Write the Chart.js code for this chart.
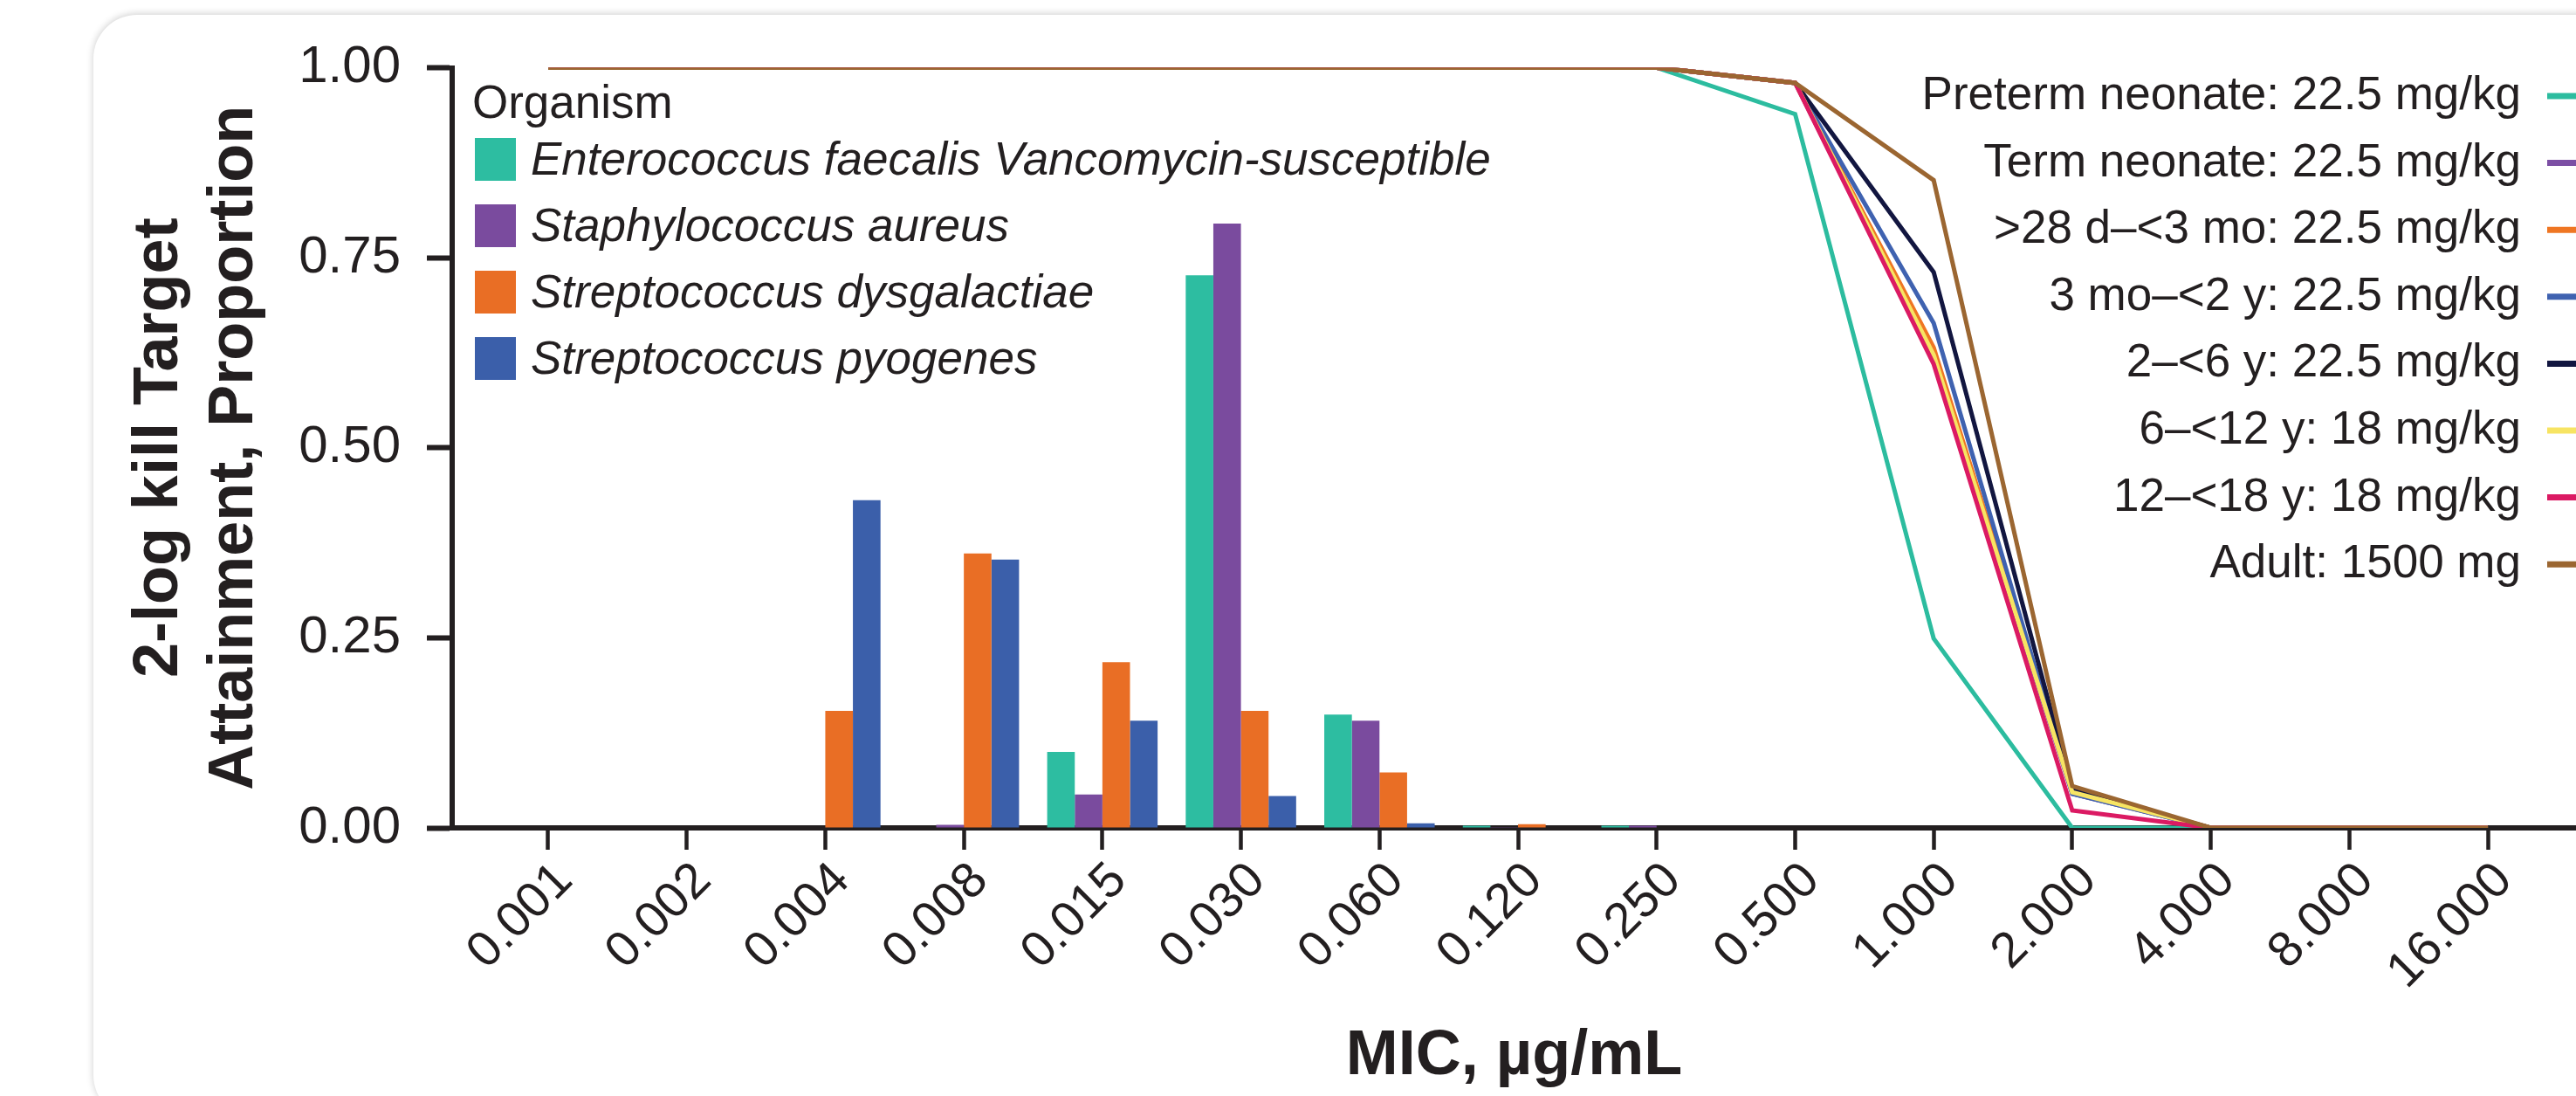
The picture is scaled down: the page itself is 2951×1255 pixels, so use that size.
<!DOCTYPE html>
<html>
<head>
<meta charset="utf-8">
<script src="https://cdn.jsdelivr.net/npm/chart.js@4.4.1/dist/chart.umd.min.js"></script>
<style>
  body { margin: 0; background: #fff; overflow: hidden; }
  .card {
    position: absolute; left: 107px; top: 17px; width: 3000px; height: 1264px;
    border-radius: 50px; background: #fff; box-shadow: 0 -1px 9px rgba(0,0,0,0.2);
  }
  #myChart { position: absolute; left: 0; top: 0; }
</style>
</head>
<body>
<div class="card"></div>
<canvas id="myChart" width="2951" height="1255"></canvas>
<script>
// MIC categories (x axis)
var micLabels = ['0.001', '0.002', '0.004', '0.008', '0.015', '0.030', '0.060', '0.120',
  '0.250', '0.500', '1.000', '2.000', '4.000', '8.000', '16.000'];

// organism MIC distributions (bars)
var organisms = ['Enterococcus faecalis Vancomycin-susceptible', 'Staphylococcus aureus',
  'Streptococcus dysgalactiae', 'Streptococcus pyogenes'];
var eFaecalis = [0, 0, 0, 0, 0.100, 0.727, 0.149, 0.003, 0.003, 0, 0, 0, 0, 0, 0];
var sAureus = [0, 0, 0, 0.004, 0.044, 0.795, 0.141, 0.001, 0.003, 0, 0, 0, 0, 0, 0];
var sDysgalactiae = [0, 0, 0.154, 0.361, 0.218, 0.154, 0.073, 0.005, 0, 0, 0, 0, 0, 0, 0];
var sPyogenes = [0, 0, 0.431, 0.353, 0.141, 0.042, 0.006, 0, 0, 0, 0, 0, 0, 0, 0];
var barColors = ['#2dbda1', '#7a4b9e', '#e96e25', '#3b5faa'];

// target attainment by age group (lines)
var ageGroups = ['Preterm neonate: 22.5 mg/kg', 'Term neonate: 22.5 mg/kg', '>28 d\u2013<3 mo: 22.5 mg/kg',
  '3 mo\u2013<2 y: 22.5 mg/kg', '2\u2013<6 y: 22.5 mg/kg', '6\u2013<12 y: 18 mg/kg',
  '12\u2013<18 y: 18 mg/kg', 'Adult: 1500 mg'];
var preterm = [1, 1, 1, 1, 1, 1, 1, 1, 1, 0.939, 0.249, 0, 0, 0, 0];
var termNeonate = [1, 1, 1, 1, 1, 1, 1, 1, 1, 0.980, 0.617, 0.045, 0, 0, 0];
var d28to3mo = [1, 1, 1, 1, 1, 1, 1, 1, 1, 0.980, 0.632, 0.048, 0, 0, 0];
var mo3to2y = [1, 1, 1, 1, 1, 1, 1, 1, 1, 0.980, 0.664, 0.045, 0, 0, 0];
var y2to6 = [1, 1, 1, 1, 1, 1, 1, 1, 1, 0.980, 0.731, 0.050, 0, 0, 0];
var y6to12 = [1, 1, 1, 1, 1, 1, 1, 1, 1, 0.980, 0.622, 0.047, 0, 0, 0];
var y12to18 = [1, 1, 1, 1, 1, 1, 1, 1, 1, 0.980, 0.610, 0.023, 0, 0, 0];
var adult = [1, 1, 1, 1, 1, 1, 1, 1, 1, 0.980, 0.852, 0.055, 0, 0, 0];
var lineColors = ['#2cbc9f', '#7c4fa4', '#ef7623', '#3f62b0', '#121640', '#f7e463', '#db1a63', '#9b6631'];

var yTicks = [0, 0.25, 0.5, 0.75, 1];

var ink = '#231f20';
var family = "'Liberation Sans', Arial, sans-serif";

function toPoints(values) {
  return values.map((v, i) => ({ x: i, y: v }));
}

var barSeries = [eFaecalis, sAureus, sDysgalactiae, sPyogenes];
var lineSeries = [preterm, termNeonate, d28to3mo, mo3to2y, y2to6, y6to12, y12to18, adult];

var datasets = [];
barSeries.forEach((values, i) => {
  datasets.push({
    type: 'bar',
    label: organisms[i],
    data: toPoints(values),
    backgroundColor: barColors[i],
    borderWidth: 0,
    categoryPercentage: 0.797,
    barPercentage: 1,
    order: 20
  });
});
lineSeries.forEach((values, i) => {
  datasets.push({
    type: 'line',
    label: ageGroups[i],
    data: toPoints(values),
    borderColor: lineColors[i],
    borderWidth: 5,
    borderJoinStyle: 'miter',
    pointRadius: 0,
    tension: 0,
    fill: false,
    order: 10 - i
  });
});

// both legends are drawn by hand from the datasets
var legendsPlugin = {
  id: 'twoLegends',
  afterDraw(chart) {
    var ctx = chart.ctx;
    var sets = chart.data.datasets;
    ctx.save();
    ctx.textBaseline = 'alphabetic';
    ctx.textAlign = 'left';
    ctx.fillStyle = ink;
    ctx.font = '53px ' + family;
    ctx.fillText('Organism', 541, 135);
    sets.filter(d => d.type === 'bar').forEach((d, i) => {
      var top = 158 + i * 76;
      ctx.fillStyle = d.backgroundColor;
      ctx.fillRect(544, top, 47, 49);
      ctx.fillStyle = ink;
      ctx.font = 'italic 53px ' + family;
      ctx.fillText(d.label, 608, top + 42);
    });

    ctx.textAlign = 'right';
    ctx.font = '53px ' + family;
    sets.filter(d => d.type === 'line').forEach((d, i) => {
      var base = 125 + i * 76.6;
      ctx.fillStyle = ink;
      ctx.fillText(d.label, 2888, base);
      ctx.strokeStyle = d.borderColor;
      ctx.lineWidth = 7;
      ctx.beginPath();
      ctx.moveTo(2918, base - 15);
      ctx.lineTo(2990, base - 15);
      ctx.stroke();
    });
    ctx.restore();
  }
};

var ctx = document.getElementById('myChart').getContext('2d');
var myChart = new Chart(ctx, {
  type: 'bar',
  data: { datasets: datasets },
  plugins: [legendsPlugin],
  options: {
    responsive: false,
    animation: false,
    layout: { padding: { left: 0, right: 0, top: 77.5, bottom: 0 } },
    plugins: {
      legend: { display: false },
      tooltip: { enabled: false }
    },
    scales: {
      x: {
        type: 'linear',
        min: -0.693,
        max: 14.636,
        offset: false,
        z: 1,
        border: { color: ink, width: 6 },
        grid: { offset: false, drawOnChartArea: false, drawTicks: true, tickLength: 25, tickWidth: 4.5, tickColor: ink },
        afterBuildTicks: scale => {
          scale.ticks = micLabels.map((_, i) => ({ value: i }));
        },
        afterFit: scale => {
          scale.height = 307;
          scale.paddingLeft = 0;
          scale.paddingRight = 0;
        },
        ticks: {
          autoSkip: false,
          minRotation: 45,
          maxRotation: 45,
          padding: 2,
          labelOffset: 19,
          color: ink,
          font: { family: family, size: 57 },
          callback: value => micLabels[value]
        },
        title: {
          display: true,
          text: 'MIC, \u00b5g/mL',
          color: ink,
          font: { family: family, size: 72, weight: 'bold', lineHeight: 1.2 },
          padding: { top: 0, bottom: 2 }
        }
      },
      y: {
        min: 0,
        max: 1,
        z: 1,
        border: { color: ink, width: 6 },
        grid: { drawOnChartArea: false, drawTicks: true, tickLength: 29, tickWidth: 6, tickColor: ink },
        afterBuildTicks: scale => {
          scale.ticks = yTicks.map(v => ({ value: v }));
        },
        afterFit: scale => {
          scale.width = 518;
          scale.paddingTop = 0;
          scale.paddingBottom = 0;
        },
        ticks: {
          padding: 30,
          color: ink,
          font: { family: family, size: 60 },
          callback: value => value.toFixed(2)
        },
        title: {
          display: true,
          text: ['2-log kill Target', 'Attainment, Proportion'],
          color: ink,
          font: { family: family, size: 72, weight: 'bold', lineHeight: 1.2 },
          padding: { top: 140, bottom: 0 }
        }
      }
    }
  }
});
</script>
</body>
</html>
